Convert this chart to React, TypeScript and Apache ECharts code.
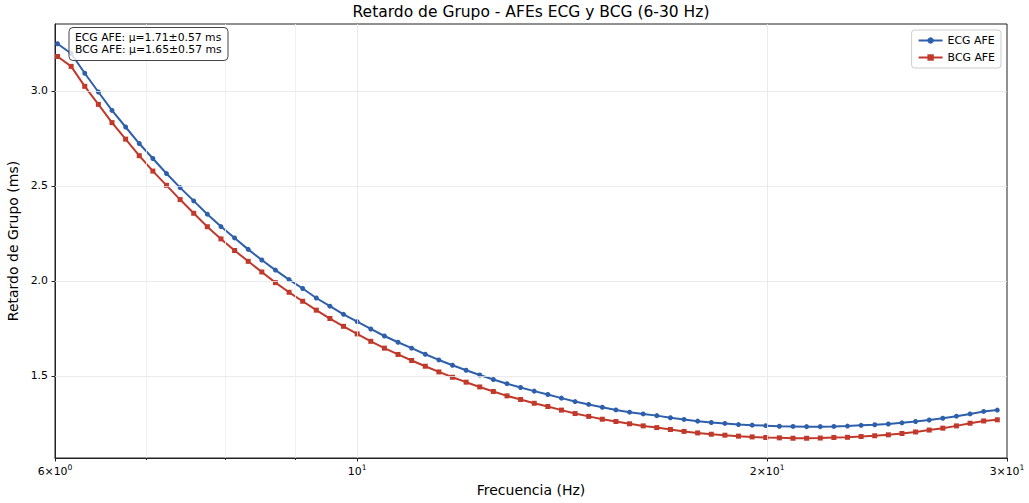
import React, { useEffect, useRef } from "react";
import * as echarts from "echarts";

const freqs = [
  6.0256, 6.166, 6.3096, 6.4565, 6.6069, 6.7608, 6.9183, 7.0795, 7.2444, 7.4131,
  7.5858, 7.7625, 7.9433, 8.1283, 8.3176, 8.5114, 8.7096, 8.9125, 9.1201, 9.3325,
  9.5499, 9.7724, 10.0, 10.2329, 10.4713, 10.7152, 10.9648, 11.2202, 11.4815, 11.749,
  12.0226, 12.3027, 12.5893, 12.8825, 13.1826, 13.4896, 13.8038, 14.1254, 14.4544, 14.7911,
  15.1356, 15.4882, 15.8489, 16.2181, 16.5959, 16.9824, 17.378, 17.7828, 18.197, 18.6209,
  19.0546, 19.4984, 19.9526, 20.4174, 20.893, 21.3796, 21.8776, 22.3872, 22.9087, 23.4423,
  23.9883, 24.5471, 25.1189, 25.704, 26.3027, 26.9153, 27.5423, 28.1838, 28.8403, 29.5121,
];

const ecgDelay = [
  3.248, 3.197, 3.093, 2.994, 2.897, 2.81, 2.723, 2.644, 2.565, 2.491,
  2.421, 2.351, 2.286, 2.226, 2.166, 2.11, 2.057, 2.007, 1.96, 1.91,
  1.867, 1.824, 1.786, 1.747, 1.71, 1.677, 1.646, 1.614, 1.584, 1.556,
  1.53, 1.505, 1.481, 1.459, 1.439, 1.42, 1.402, 1.383, 1.365, 1.35,
  1.335, 1.321, 1.309, 1.3, 1.291, 1.28, 1.271, 1.262, 1.255, 1.25,
  1.244, 1.241, 1.238, 1.235, 1.234, 1.233, 1.233, 1.234, 1.236, 1.24,
  1.243, 1.247, 1.253, 1.26, 1.268, 1.277, 1.288, 1.3, 1.313, 1.32,
];

const bcgDelay = [
  3.181, 3.129, 3.024, 2.929, 2.833, 2.746, 2.659, 2.578, 2.503, 2.428,
  2.356, 2.285, 2.221, 2.16, 2.103, 2.047, 1.991, 1.94, 1.893, 1.846,
  1.802, 1.761, 1.721, 1.682, 1.646, 1.613, 1.581, 1.551, 1.521, 1.493,
  1.467, 1.442, 1.418, 1.395, 1.376, 1.356, 1.339, 1.32, 1.302, 1.287,
  1.272, 1.26, 1.248, 1.237, 1.228, 1.218, 1.208, 1.2, 1.193, 1.188,
  1.183, 1.179, 1.176, 1.174, 1.172, 1.172, 1.173, 1.176, 1.177, 1.181,
  1.185, 1.19, 1.197, 1.205, 1.215, 1.225, 1.237, 1.251, 1.263, 1.269,
];

const xMajorTicks = [6, 10, 20, 30];
const xMinorTicks = [7, 8, 9];
const yTicks = [1.5, 2.0, 2.5, 3.0];

const seriesNames = ["ECG AFE", "BCG AFE"];
const statsLines = ["ECG AFE: μ=1.71±0.57 ms", "BCG AFE: μ=1.65±0.57 ms"];
const titleText = "Retardo de Grupo - AFEs ECG y BCG (6-30 Hz)";

const FONT = "DejaVu Sans";
const BLUE = "#2e5fab";
const RED = "#c0392b";
const GRID_C = "#e6e6e6";
const GRID_MINOR_C = "#eeeeee";

function xLabel(v: number): string {
  const r = Math.round(v);
  const exp = Math.floor(Math.log10(r) + 1e-9);
  const mant = Math.round(r / Math.pow(10, exp));
  const base = mant === 1 ? "10" : mant + "×10";
  return "{n|" + base + "}{s|" + exp + "}";
}

export default function App() {
  const ref = useRef<HTMLDivElement>(null);
  useEffect(() => {
    if (!ref.current) return;
    const chart = echarts.init(ref.current, undefined, { renderer: "svg" });
    const ecgData = freqs.map((f, i) => [f, ecgDelay[i]]);
    const bcgData = freqs.map((f, i) => [f, bcgDelay[i]]);
    const gridData: any[] = [
      ...xMinorTicks.map((v) => ({ xAxis: v, lineStyle: { color: GRID_MINOR_C } })),
      ...xMajorTicks.filter((v) => v !== 6 && v !== 30).map((v) => ({ xAxis: v })),
      ...yTicks.map((v) => ({ yAxis: v })),
    ];
    chart.setOption({
      animation: false,
      textStyle: { fontFamily: FONT },
      grid: {
        left: 55,
        right: 22,
        top: 24,
        bottom: 45,
        show: true,
        borderColor: "#222",
        borderWidth: 1,
        backgroundColor: "transparent",
        containLabel: false,
        outerBoundsMode: "none",
      },
      legend: {
        data: seriesNames,
        orient: "vertical",
        right: 28,
        top: 30,
        padding: [5, 6, 5, 6],
        itemGap: 6,
        itemWidth: 24,
        itemHeight: 8,
        borderColor: "#cccccc",
        borderWidth: 1,
        borderRadius: 3,
        backgroundColor: "rgba(255,255,255,0.8)",
        textStyle: { fontFamily: FONT, fontSize: 10.9, color: "#000" },
      },
      xAxis: [
        {
          type: "log",
          logBase: 10,
          min: 6,
          max: 30,
          name: "Frecuencia (Hz)",
          nameLocation: "middle",
          nameGap: 25,
          nameTextStyle: { fontFamily: FONT, fontSize: 14, color: "#000" },
          axisLine: { show: true, onZero: false, lineStyle: { color: "#222", width: 1 } },
          axisTick: { show: true, customValues: xMajorTicks, length: 3.5, lineStyle: { color: "#222" } },
          axisLabel: {
            show: true,
            customValues: xMajorTicks,
            margin: 5,
            formatter: (v: number) => xLabel(v),
            rich: {
              n: { fontFamily: FONT, fontSize: 10.9, color: "#000", lineHeight: 14, verticalAlign: "bottom" },
              s: { fontFamily: FONT, fontSize: 7.6, color: "#000", lineHeight: 14, verticalAlign: "top", padding: [0, 0, 6, 0] },
            },
          },
          splitLine: { show: false },
          minorTick: { show: false },
        },
        {
          type: "log",
          logBase: 10,
          min: 6,
          max: 30,
          position: "bottom",
          axisLine: { show: false },
          axisTick: { show: true, customValues: xMinorTicks, length: 2, lineStyle: { color: "#222" } },
          axisLabel: { show: false },
          splitLine: { show: false },
        },
      ],
      yAxis: {
        type: "value",
        min: 1.068,
        max: 3.352,
        name: "Retardo de Grupo (ms)",
        nameLocation: "middle",
        nameGap: 33,
        nameTextStyle: { fontFamily: FONT, fontSize: 14, color: "#000" },
        axisLine: { show: true, lineStyle: { color: "#222", width: 1 } },
        axisTick: { show: true, customValues: yTicks, length: 3.5, lineStyle: { color: "#222" } },
        axisLabel: {
          customValues: yTicks,
          margin: 7,
          fontFamily: FONT,
          fontSize: 10.9,
          color: "#000",
          formatter: (v: number) => v.toFixed(1),
        },
        splitLine: { show: false },
      },
      graphic: [
        {
          type: "text",
          x: 531,
          y: 12,
          z: 100,
          style: {
            text: titleText,
            fontFamily: FONT,
            fontSize: 15.5,
            fill: "#000",
            align: "center",
            verticalAlign: "middle",
          },
        },
        {
          type: "rect",
          z: 100,
          zlevel: 1,
          shape: { x: 69, y: 27.5, width: 159, height: 33, r: 4 },
          style: { fill: "rgba(255,255,255,0.8)", stroke: "#444", lineWidth: 1 },
        },
        {
          type: "text",
          z: 101,
          zlevel: 1,
          x: 75,
          y: 37,
          style: {
            text: statsLines[0],
            fontFamily: FONT,
            fontSize: 10.8,
            fill: "#000",
            verticalAlign: "middle",
          },
        },
        {
          type: "text",
          z: 101,
          zlevel: 1,
          x: 75,
          y: 49.5,
          style: {
            text: statsLines[1],
            fontFamily: FONT,
            fontSize: 10.8,
            fill: "#000",
            verticalAlign: "middle",
          },
        },
      ],
      series: [
        {
          name: "grid",
          type: "line",
          data: [],
          z: 1,
          silent: true,
          markLine: {
            silent: true,
            symbol: ["none", "none"],
            label: { show: false },
            lineStyle: { color: GRID_C, width: 0.8, type: "solid" },
            emphasis: { disabled: true },
            data: gridData,
          },
        },
        {
          name: seriesNames[0],
          type: "line",
          data: ecgData,
          z: 3,
          symbol: "circle",
          symbolSize: 5,
          showSymbol: true,
          lineStyle: { color: BLUE, width: 2 },
          itemStyle: { color: BLUE },
        },
        {
          name: seriesNames[1],
          type: "line",
          data: bcgData,
          z: 3,
          symbol: "rect",
          symbolSize: 5,
          showSymbol: true,
          lineStyle: { color: RED, width: 2 },
          itemStyle: { color: RED },
        },
      ],
    });
    return () => chart.dispose();
  }, []);
  return <div ref={ref} style={{ width: 1029, height: 503, position: "absolute", left: 0, top: 0 }} />;
}
